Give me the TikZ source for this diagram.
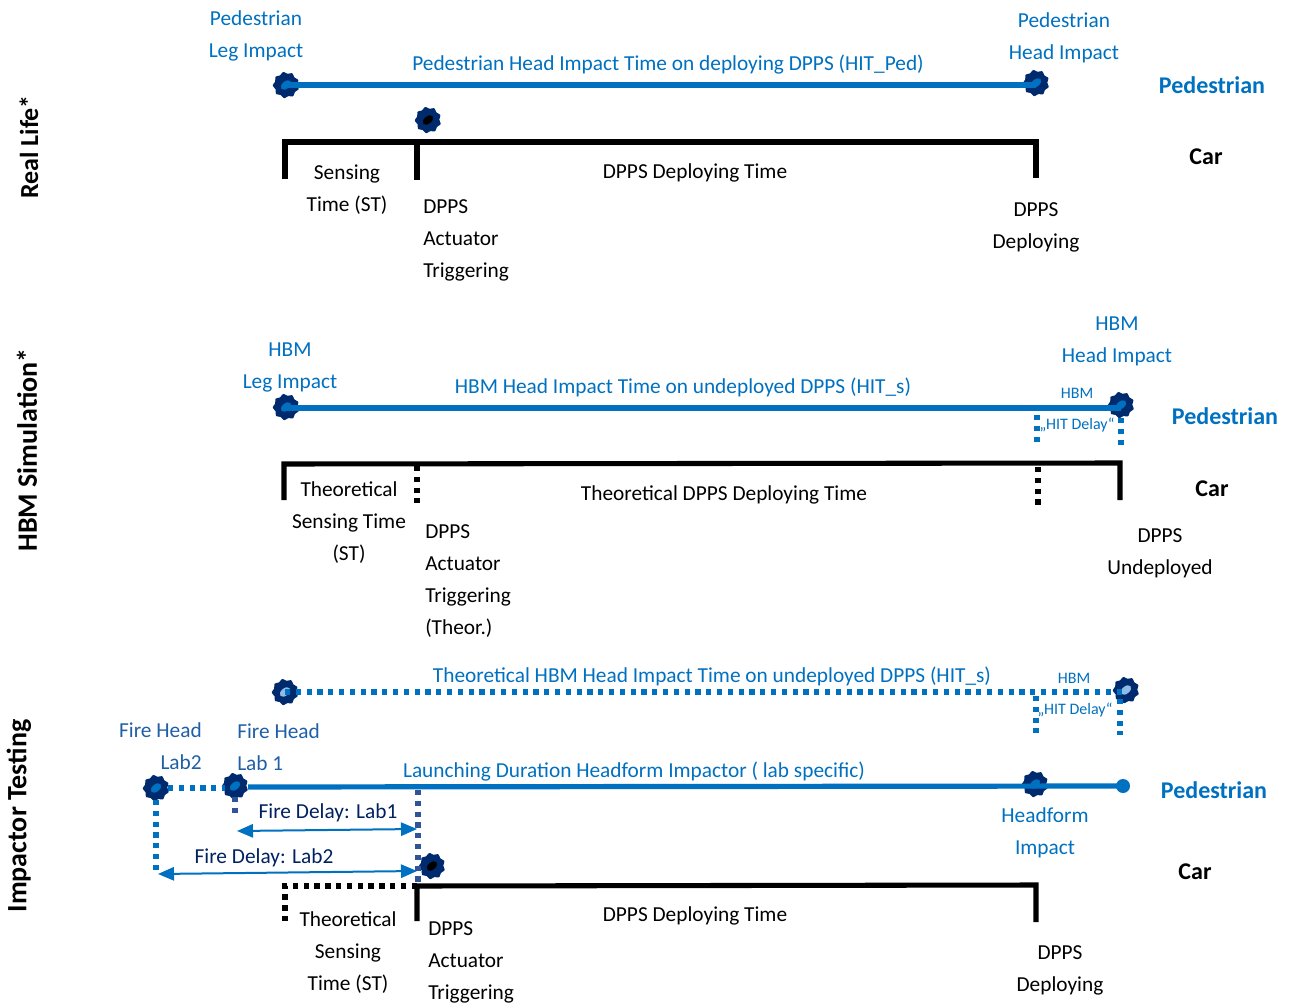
\documentclass[tikz,border=0pt]{standalone}
\usepackage{fontspec}
\setmainfont{Carlito}
\usetikzlibrary{arrows.meta,shapes.geometric}
\definecolor{lblue}{HTML}{0070C0}
\definecolor{navy}{HTML}{002060}
\definecolor{gearc}{HTML}{002A6E}
\definecolor{midb}{HTML}{2F5597}
\definecolor{firec}{HTML}{1F5FA6}
\definecolor{pale}{HTML}{8FBCE6}
\tikzset{
  gearshape/.style={star,star points=9,star point ratio=1.2,minimum size=18.5pt,inner sep=0pt,fill=gearc,draw=gearc,line width=1.5pt,line join=round},
  gearhole/.style={ellipse,inner sep=0pt,minimum width=9pt,minimum height=5.5pt,rotate=40},
  lab/.style={font=\fontsize{16}{24}\selectfont,align=center,inner sep=0pt},
  labl/.style={font=\fontsize{16}{24}\selectfont,align=left,inner sep=0pt},
  labr/.style={font=\fontsize{16}{24}\selectfont,align=right,inner sep=0pt},
  bluelab/.style={lab,text=lblue},
  side/.style={font=\fontsize{18}{20}\selectfont\bfseries,inner sep=0pt},
  small/.style={font=\fontsize{12}{12}\selectfont,text=lblue,inner sep=0pt},
  rowtitle/.style={font=\fontsize{21}{20}\selectfont\bfseries,rotate=90,inner sep=0pt},
  bluebar/.style={draw=lblue,line width=3.9pt},
  blackbar/.style={draw=black,line width=3.8pt,line join=miter},
  bluedot/.style={draw=lblue,line width=3.9pt,dash pattern=on 3.9pt off 4.2pt},
  blackdot/.style={draw=black,line width=4pt,dash pattern=on 4pt off 4.1pt},
  navydot/.style={draw=midb,line width=3.9pt,dash pattern=on 3.9pt off 4.2pt},
  dim/.style={draw=lblue,line width=1.5pt,{Triangle[width=10pt,length=12pt]}-{Triangle[width=10pt,length=12pt]}},
}
\newcommand{\gearat}[4]{%
  \node[gearshape,rotate=12] (#1) at (#2,#3) {};
  \node[gearhole,fill=#4] (#1h) at (#2,#3) {};
}
\begin{document}
\begin{tikzpicture}[x=0.75pt,y=-0.75pt]
\useasboundingbox (0,0) rectangle (1293,1006);
% ---- row titles
\node[rowtitle,font=\fontsize{19.5}{20}\selectfont\bfseries] (t1) at (29,147) {Real Life*};
\node[rowtitle] (t2) at (27,450) {HBM Simulation*};
\node[rowtitle] (t3) at (19,816) {Impactor Testing};
% ---- Real life
\gearat{a1}{286}{85}{lblue}
\gearat{a2}{1036}{83}{lblue}
\gearat{a3}{428}{120}{black}
\coordinate (a2e) at (1036,85);
\draw[bluebar] (a1.center) -- (a2e);
\coordinate (b1) at (285,179);
\coordinate (b2) at (285,142);
\coordinate (b3) at (1036,142);
\coordinate (b4) at (1036,178);
\coordinate (b5) at (417,142);
\coordinate (b6) at (417,180);
\draw[blackbar] (b1) -- (b2) -- (b3) -- (b4);
\draw[blackbar] (b5) -- (b6);
\node[bluelab] (n1) at (256,36) {Pedestrian\\Leg Impact};
\node[bluelab] (n2) at (1064,38) {Pedestrian\\Head Impact};
\node[bluelab] (n3) at (668,65) {Pedestrian Head Impact Time on deploying DPPS (HIT\_Ped)};
\node[side,text=lblue] (n4) at (1212,85) {Pedestrian};
\node[side] (n5) at (1206,157) {Car};
\node[lab] (n6) at (347,190) {Sensing\\Time (ST)};
\node[lab] (n7) at (695,173) {DPPS Deploying Time};
\node[labl,anchor=west] (n8) at (423,240) {DPPS\\Actuator\\Triggering};
\node[lab] (n9) at (1036,227) {DPPS\\Deploying};
% ---- HBM simulation
\gearat{c1}{286}{407}{lblue}
\gearat{c2}{1121}{405}{lblue}
\coordinate (c1e) at (286,408);
\coordinate (c2e) at (1121,408);
\draw[bluebar] (c1e) -- (c2e);
\coordinate (d1) at (1037,415);
\coordinate (d2) at (1037,443);
\coordinate (d3) at (1121,418);
\coordinate (d4) at (1121,446);
\draw[bluedot] (d1) -- (d2);
\draw[bluedot] (d3) -- (d4);
\coordinate (e1) at (284,500);
\coordinate (e2) at (284,464);
\coordinate (e3) at (1120,463);
\coordinate (e4) at (1120,500);
\coordinate (e5) at (417,466);
\coordinate (e6) at (417,503);
\coordinate (e7) at (1038,467);
\coordinate (e8) at (1038,506);
\draw[blackbar] (e1) -- (e2) -- (e3) -- (e4);
\draw[blackdot] (e5) -- (e6);
\draw[blackdot] (e7) -- (e8);
\node[bluelab] (m1) at (290,367) {HBM\\Leg Impact};
\node[bluelab] (m2) at (1117,341) {HBM\\Head Impact};
\node[bluelab] (m3) at (683,387) {HBM Head Impact Time on undeployed DPPS (HIT\_s)};
\node[small] (m4) at (1077,393) {HBM};
\node[small] (m5) at (1077,425) {„HIT Delay“};
\node[side,text=lblue] (m6) at (1225,416) {Pedestrian};
\node[side] (m7) at (1212,489) {Car};
\node[lab] (m8) at (349,523) {Theoretical\\Sensing Time\\(ST)};
\node[lab] (m9) at (724,495) {Theoretical DPPS Deploying Time};
\node[labl,anchor=west] (m10) at (425,581) {DPPS\\Actuator\\Triggering\\(Theor.)};
\node[lab] (m11) at (1160,553) {DPPS\\Undeployed};
% ---- Impactor testing
\gearat{f1}{285}{692}{pale}
\gearat{f2}{1126}{690}{pale}
\coordinate (f2e) at (1126,692);
\draw[bluedot] (f1.center) -- (f2e);
\coordinate (g1) at (1036,696);
\coordinate (g2) at (1036,733);
\coordinate (g3) at (1120,699);
\coordinate (g4) at (1120,735);
\draw[bluedot] (g1) -- (g2);
\draw[bluedot] (g3) -- (g4);
\gearat{h1}{156}{788}{lblue}
\gearat{h2}{235}{786}{lblue}
\gearat{h3}{1035}{784}{lblue}
\gearat{h4}{432}{866}{black}
\node[circle,fill=lblue,minimum size=10.5pt,inner sep=0pt] (h5) at (1123,786) {};
\coordinate (h2e) at (248,787);
\draw[bluebar] (h2e) -- (h5.center);
\coordinate (i1) at (168,788);
\coordinate (i2) at (225,788);
\coordinate (i3) at (156,800);
\coordinate (i4) at (156,871);
\coordinate (i5) at (235,797);
\coordinate (i6) at (235,818);
\coordinate (i7) at (418,790);
\coordinate (i8) at (418,885);
\draw[bluedot] (i1) -- (i2);
\draw[bluedot] (i3) -- (i4);
\draw[navydot] (i5) -- (i6);
\coordinate (j1) at (417,921);
\coordinate (j2) at (417,886);
\coordinate (j3) at (1036,885);
\coordinate (j4) at (1036,922);
\coordinate (j5) at (285,886);
\coordinate (j6) at (285,922);
\draw[blackbar] (j1) -- (j2) -- (j3) -- (j4);
\draw[blackdot] (j2) -- (j5) -- (j6);
\draw[navydot] (i7) -- (i8);
\coordinate (k1) at (237,831);
\coordinate (k2) at (417,829);
\coordinate (k3) at (158,874);
\coordinate (k4) at (417,871);
\draw[dim] (k1) -- (k2);
\draw[dim] (k3) -- (k4);
\node[bluelab] (p1) at (712,676) {Theoretical HBM Head Impact Time on undeployed DPPS (HIT\_s)};
\node[small] (p2) at (1074,678) {HBM};
\node[small] (p3) at (1075,710) {„HIT Delay“};
\node[labr,text=firec,anchor=east] (p4) at (202,746) {Fire Head\\Lab2};
\node[labl,text=firec,anchor=west] (p4b) at (237,747) {Fire Head\\Lab 1};
\node[bluelab] (p5) at (634,772) {Launching Duration Headform Impactor ( lab specific)};
\node[side,text=lblue] (p6) at (1214,790) {Pedestrian};
\node[side] (p7) at (1195,872) {Car};
\node[bluelab] (p8) at (1045,833) {Headform\\Impact};
\node[lab,text=navy] (p9) at (328,813) {Fire Delay: Lab1};
\node[lab,text=navy] (p10) at (264,858) {Fire Delay: Lab2};
\node[lab] (p11) at (348,953) {Theoretical\\Sensing\\Time (ST)};
\node[lab] (p12) at (695,916) {DPPS Deploying Time};
\node[labl,anchor=west] (p13) at (428,962) {DPPS\\Actuator\\Triggering};
\node[lab] (p14) at (1060,970) {DPPS\\Deploying};
\end{tikzpicture}
\end{document}
